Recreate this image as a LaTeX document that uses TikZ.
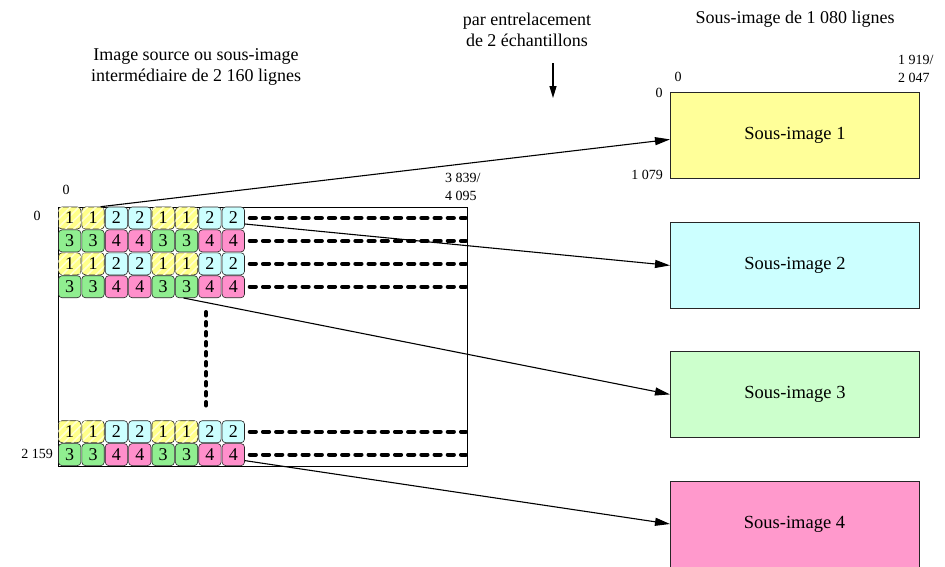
\documentclass[tikz,border=0pt]{standalone}
\usepackage{fontspec}
\setmainfont{Liberation Serif}
\usetikzlibrary{arrows.meta,patterns.meta}
\definecolor{boxyellow}{HTML}{FFFF99}
\definecolor{boxcyan}{HTML}{CCFFFF}
\definecolor{boxgreen}{HTML}{CCFFCC}
\definecolor{boxpink}{HTML}{FF99CC}
\definecolor{cellyellow}{HTML}{FFFF88}
\definecolor{stripeyellow}{HTML}{FFFFD0}
\definecolor{cellcyan}{HTML}{CCFFFF}
\definecolor{cellgreen}{HTML}{90EE90}
\definecolor{cellpink}{HTML}{FF8FCB}
\tikzset{
  cell/.style={draw=black!85, line width=0.6pt, rounded corners=3.5pt, minimum width=22.4pt, minimum height=22pt, inner sep=0pt, font=\fontsize{18}{18}\selectfont},
  s1/.style={cell, fill=cellyellow, postaction={pattern={Lines[angle=45,distance=6pt,line width=1.6pt]}, pattern color=stripeyellow}},
  s2/.style={cell, fill=cellcyan},
  s3/.style={cell, fill=cellgreen},
  s4/.style={cell, fill=cellpink},
  subbox/.style={draw=black!85, line width=0.8pt, minimum width=249pt, minimum height=86pt, inner sep=0pt, anchor=north west, font=\fontsize{18.5}{18.5}\selectfont},
  lbl/.style={font=\fontsize{18}{21}\selectfont, align=center, inner sep=0pt},
  num/.style={font=\fontsize{14}{16}\selectfont, inner sep=0pt},
  dotline/.style={line width=4.2pt, line cap=round, dash pattern=on 6pt off 7.2pt},
  vdotline/.style={line width=4pt, line cap=round, dash pattern=on 3.5pt off 6.5pt},
  arr/.style={line width=1.1pt, -{Triangle[length=15pt,width=8pt]}},
}
\begin{document}
\begin{tikzpicture}[x=1pt,y=-1pt]
\useasboundingbox (0,0) rectangle (945,566);

% source image frame
\node[draw=black, line width=0.8pt, minimum width=409pt, minimum height=259pt, inner sep=0pt, anchor=north west] (src) at (58,207) {};

% cells
\foreach \r/\yy/\k in {1/218/0, 2/240.9/2, 3/263.8/0, 4/286.7/2, 5/431.7/0, 6/454.6/2} {
  \foreach \i/\v in {1/1,2/1,3/2,4/2,5/1,6/1,7/2,8/2} {
    \pgfmathtruncatemacro{\lab}{\v+\k}
    \node[s\lab] (c\r-\i) at ({58+23.375*(\i-0.5)},\yy) {\lab};
  }
  \draw[dotline] ([xshift=5pt]c\r-8.east) -- ([xshift=-2pt]c\r-8.east -| src.east);
}

% vertical dotted line
\coordinate (vtop) at (206,312);
\coordinate (vbot) at (206,408);
\draw[vdotline] (vtop) -- (vbot);

% sub-images
\node[subbox, fill=boxyellow] (s1) at (670,92) {Sous-image 1};
\node[subbox, fill=boxcyan] (s2) at (670,222) {Sous-image 2};
\node[subbox, fill=boxgreen] (s3) at (670,351) {Sous-image 3};
\node[subbox, fill=boxpink, minimum height=88pt] (s4) at (670,481) {};
\node[font=\fontsize{18.5}{18.5}\selectfont] (s4t) at (794.5,524) {Sous-image 4};

% arrows
\draw[arr] ([xshift=-4pt]c1-2.north east) -- ([yshift=-4pt]s1.west);
\draw[arr] ([yshift=-6pt]c1-8.east) -- (s2.west);
\draw[arr] ([xshift=-3pt]c4-6.south) -- (s3.west);
\draw[arr] ([yshift=-6pt]c6-8.east) -- (s4t.west -| s4.west);

% down arrow
\coordinate (dtop) at (553,63);
\coordinate (dbot) at (553,98);
\draw[line width=1.2pt, -{Triangle[length=12pt,width=7pt]}] (dtop) -- (dbot);

% labels
\node[lbl] (t1) at (196,67) {Image source ou sous-image\\intermédiaire de 2 160 lignes};
\node[lbl] (t2) at (527,30) {par entrelacement\\de 2 échantillons};
\node[lbl] (t3) at (795,19) {Sous-image de 1 080 lignes};

% coordinate numbers
\node[num] (n1) at (66,190) {0};
\node[num, anchor=west] (n2) at (445,178) {3 839/};
\node[num, anchor=west] (n3) at (445,196) {4 095};
\node[num] (n4) at (37,216) {0};
\node[num, anchor=east] (n5) at (53,454) {2 159};
\node[num] (n6) at (678,77) {0};
\node[num, anchor=west] (n7) at (898,60) {1 919/};
\node[num, anchor=west] (n8) at (898,78) {2 047};
\node[num] (n9) at (659,93) {0};
\node[num, anchor=east] (n10) at (663,175) {1 079};
\end{tikzpicture}
\end{document}
